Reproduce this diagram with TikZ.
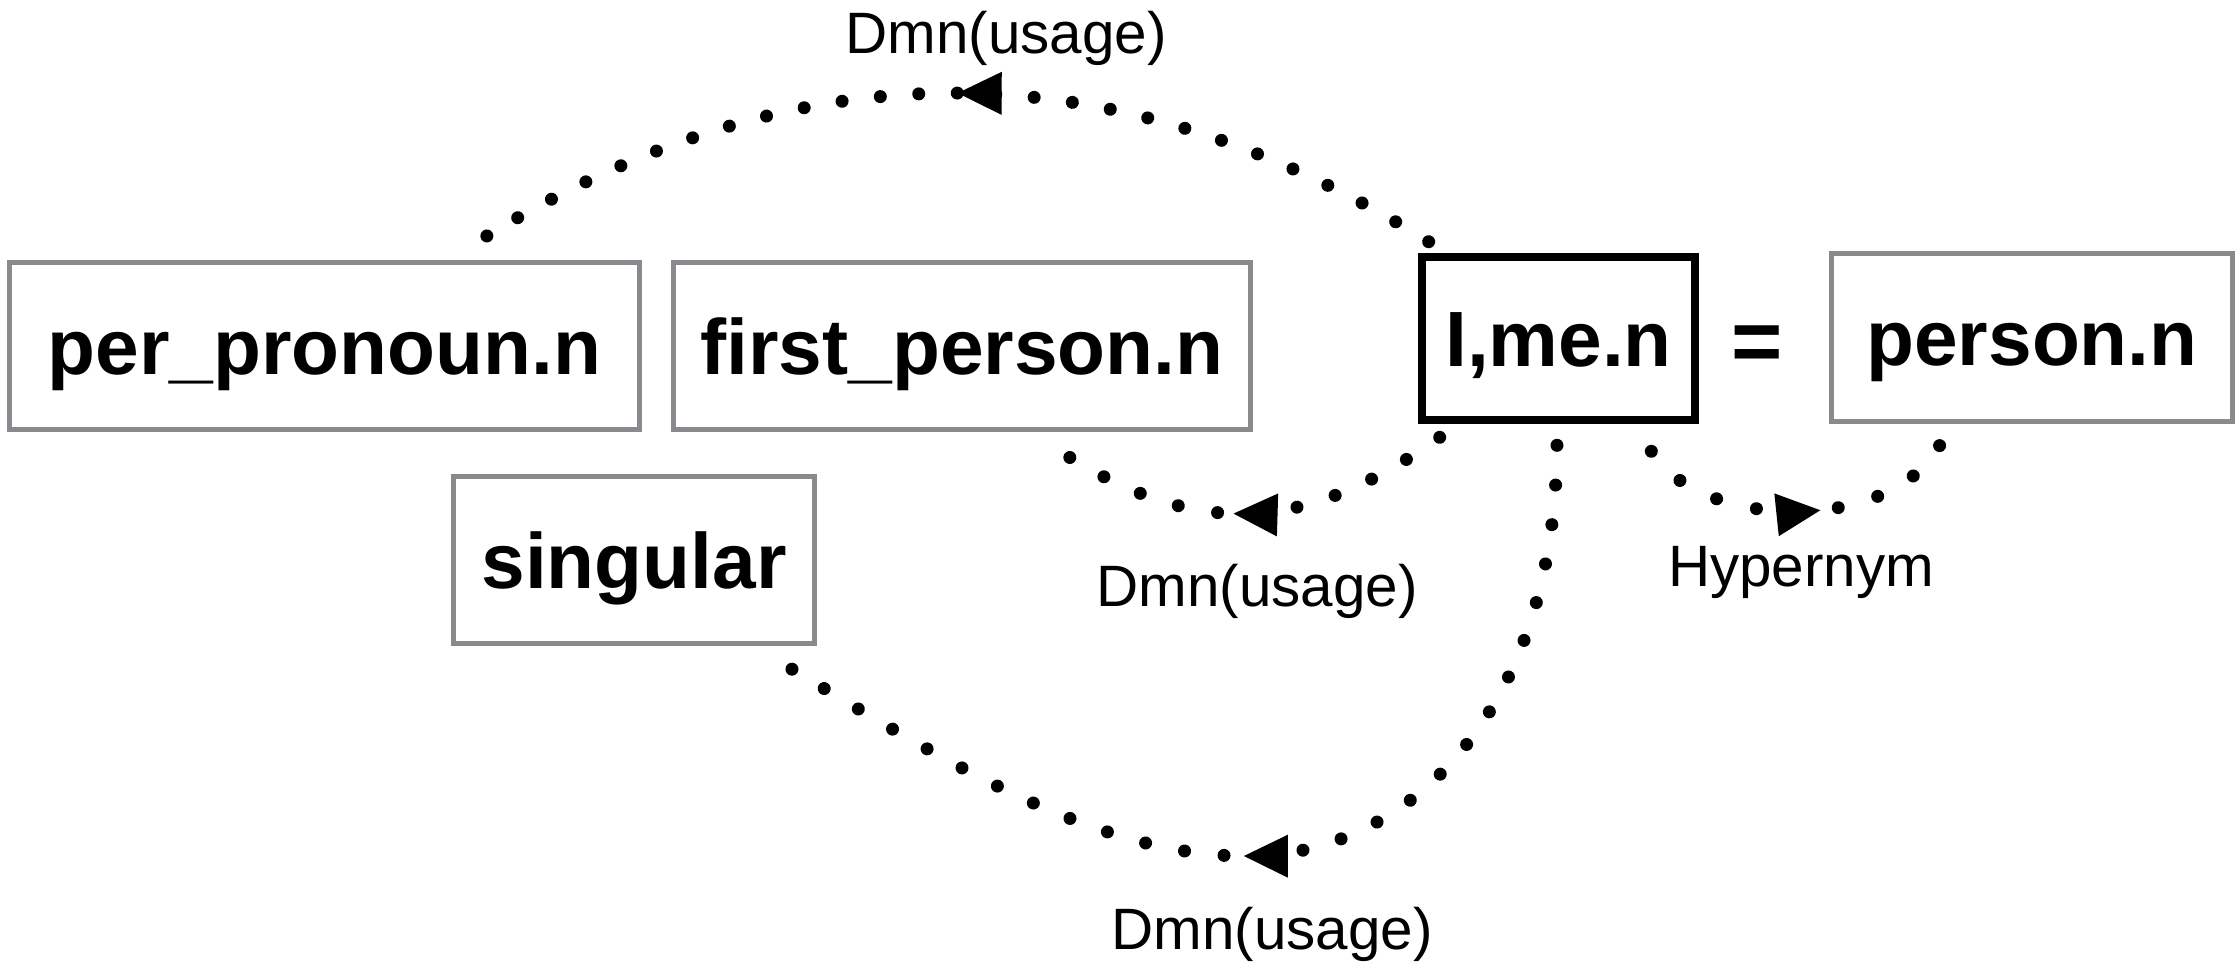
\documentclass[tikz,border=0pt]{standalone}
\usepackage{fontspec}
\setmainfont{Liberation Sans}
\usetikzlibrary{decorations.markings,calc}
\definecolor{boxgray}{RGB}{136,138,142}
\begin{document}
\begin{tikzpicture}[x=0.01cm, y=-0.01cm,
  synset/.style={draw=boxgray, line width=0.05cm, fill=white,
    font=\fontsize{22.3pt}{26pt}\selectfont\bfseries,
    text height=16pt, text depth=0pt, inner sep=0pt},
  focus/.style={synset, draw=black, line width=0.085cm},
  rel/.style={font=\fontsize{16.6pt}{20pt}\selectfont,
    text height=11.9pt, text depth=0pt, inner sep=0pt},
  % a dotted relation: round dots at an even step along the whole path,
  % with one more dot closing it at its end
  dotlink/.style={
    postaction={decorate, decoration={markings,
      mark=between positions 0 and 0.99 step #1 with {\fill (0,0) circle (0.065cm);}}},
    postaction={decorate, decoration={markings,
      mark=at position 0.998 with {\fill (0,0) circle (0.065cm);}}}},
  % a solid triangle whose tip sits at the given position
  midarrow/.style={postaction={decorate, decoration={markings,
    mark=at position #1 with {\fill (0,0) -- (-0.44cm,0.215cm) -- (-0.44cm,-0.215cm) -- cycle;}}}},
]
\useasboundingbox (0,0) rectangle (2238,969);

% synset boxes
\node[synset, minimum width=6.30cm, minimum height=1.67cm] (pp) at (324.5,346) {per\_pronoun.n};
\node[synset, minimum width=5.77cm, minimum height=1.67cm] (fp) at (962,346) {first\_person.n};
\node[focus, minimum width=2.73cm, minimum height=1.63cm] (ime) at (1558.5,338.5) {I,me.n};
\node[font=\fontsize{25pt}{30pt}\selectfont\bfseries, inner sep=0pt] (eq) at (1757,349) {=};
\node[synset, minimum width=4.01cm, minimum height=1.68cm] (ps) at (2032,337.5) {person.n};
\node[synset, minimum width=3.61cm, minimum height=1.67cm] (sg) at (634,560) {singular};

% relation labels
\node[rel] (l1) at (1006,33) {Dmn(usage)};
\node[rel] (l2) at (1257,586) {Dmn(usage)};
\node[rel] (l3) at (1272,929) {Dmn(usage)};
\node[rel] (l4) at (1801,566) {Hypernym};

% relations
\coordinate (dip) at (1245,856);
\path[dotlink=0.03846, midarrow=0.5] ($(ime.north west)+(11,-11)$)
  .. controls +(-315,-197) and +(315,-193) .. ($(pp.north east)+(-157,-23)$);
\path[dotlink=0.1, midarrow=0.56] ($(ime.south west)+(22,13)$)
  .. controls +(-130,92) and +(136,84) .. ($(fp.south east)+(-184,25)$);
\path[dotlink=0.037037, midarrow=0.537] ($(ime.south)+(-1.5,21)$)
  .. controls +(-2,275) and +(155,2) .. (dip)
  .. controls +(-150,0) and +(150,90) .. ($(sg.south east)+(-27,22)$);
\path[dotlink=0.125, midarrow=0.57] ($(ime.south east)+(-48,27)$)
  .. controls +(49,79) and +(-50,90) .. ($(ps.south west)+(111,21)$);
\end{tikzpicture}
\end{document}
